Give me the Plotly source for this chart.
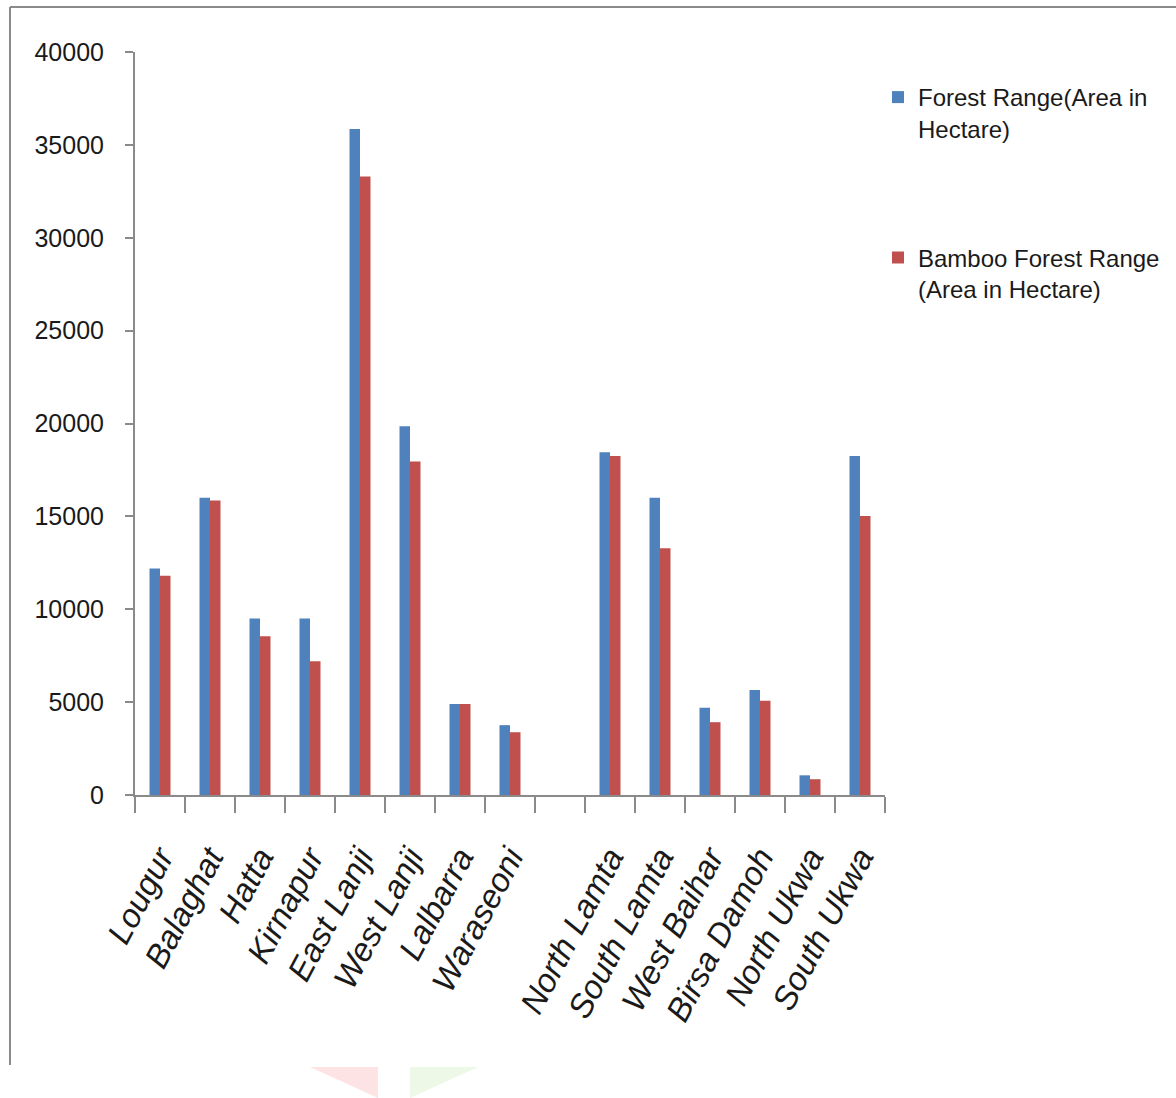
import plotly.graph_objects as go

categories = ["Lougur", "Balaghat", "Hatta", "Kirnapur", "East Lanji", "West Lanji",
              "Lalbarra", "Waraseoni", " ", "North Lamta", "South Lamta", "West Baihar",
              "Birsa Damoh", "North Ukwa", "South Ukwa"]
forest_range = [12200, 16000, 9500, 9500, 35850, 19850, 4900, 3760, None,
                18450, 16000, 4700, 5650, 1060, 18250]
bamboo_range = [11800, 15850, 8550, 7200, 33300, 17950, 4900, 3380, None,
                18250, 13280, 3920, 5070, 850, 15020]
series_names = ["Forest Range(Area in<br>Hectare)", "Bamboo Forest Range<br>(Area in Hectare)"]
y_ticks = [0, 5000, 10000, 15000, 20000, 25000, 30000, 35000, 40000]

FONT = "Liberation Sans, Arial, sans-serif"

fig = go.Figure()
fig.add_trace(go.Bar(x=categories, y=forest_range, name=series_names[0], legendgroup="a",
                     marker=dict(color="#4F81BD", line=dict(width=0))))
fig.add_trace(go.Bar(x=categories, y=bamboo_range, name=series_names[1], legendgroup="b",
                     marker=dict(color="#C0504D", line=dict(width=0))))

L, R, T, B = 135, 885, 52, 795
W, H = 1176, 1098

def px_x(x):
    return (x - L) / (R - L)

def px_y(y):
    return (B - y) / (B - T)

shapes = [
    # outer frame (left and top)
    dict(type="line", xref="paper", yref="paper", x0=px_x(10), x1=px_x(10),
         y0=px_y(7), y1=px_y(1065), line=dict(color="#8a8a8a", width=2)),
    dict(type="line", xref="paper", yref="paper", x0=px_x(10), x1=px_x(1176),
         y0=px_y(7), y1=px_y(7), line=dict(color="#8a8a8a", width=2)),
    # faint watermark triangles
    dict(type="path", xref="paper", yref="paper", line=dict(width=0), fillcolor="#fde3e3",
         path=f"M {px_x(310)},{px_y(1067)} L {px_x(378)},{px_y(1067)} L {px_x(378)},{px_y(1098)} Z"),
    dict(type="path", xref="paper", yref="paper", line=dict(width=0), fillcolor="#eef8e6",
         path=f"M {px_x(410)},{px_y(1067)} L {px_x(478)},{px_y(1067)} L {px_x(410)},{px_y(1098)} Z"),
]

fig.update_layout(
    width=W, height=H,
    margin=dict(l=L, r=W - R, t=T, b=H - B, autoexpand=False),
    paper_bgcolor="white", plot_bgcolor="white",
    barmode="group", bargap=0.58, bargroupgap=0,
    font=dict(family=FONT, color="#1a1a1a", size=24),
    showlegend=True,
    legend=dict(x=px_x(878), y=px_y(75), xanchor="left", yanchor="top",
                font=dict(family=FONT, size=24, color="#1a1a1a"),
                valign="top", tracegroupgap=95, traceorder="grouped",
                itemwidth=30, bgcolor="rgba(0,0,0,0)"),
    shapes=shapes,
    xaxis=dict(type="category", tickson="boundaries", ticks="outside", ticklen=16,
               tickcolor="#8a8a8a", tickwidth=2, showline=True, linecolor="#8a8a8a",
               linewidth=2, showgrid=False, tickangle=-62, ticklabelstandoff=28,
               tickfont=dict(family=FONT, size=33, style="italic", color="#1a1a1a"),
               range=[-0.5, 14.5]),
    yaxis=dict(range=[0, 40000], tickvals=y_ticks, ticktext=[str(v) for v in y_ticks],
               ticks="outside", ticklen=8, tickcolor="#8a8a8a", tickwidth=2,
               showline=True, linecolor="#8a8a8a", linewidth=2, showgrid=False,
               zeroline=False, ticklabelstandoff=16,
               tickfont=dict(family=FONT, size=25, color="#1a1a1a")),
)

fig.write_html("out.html")
